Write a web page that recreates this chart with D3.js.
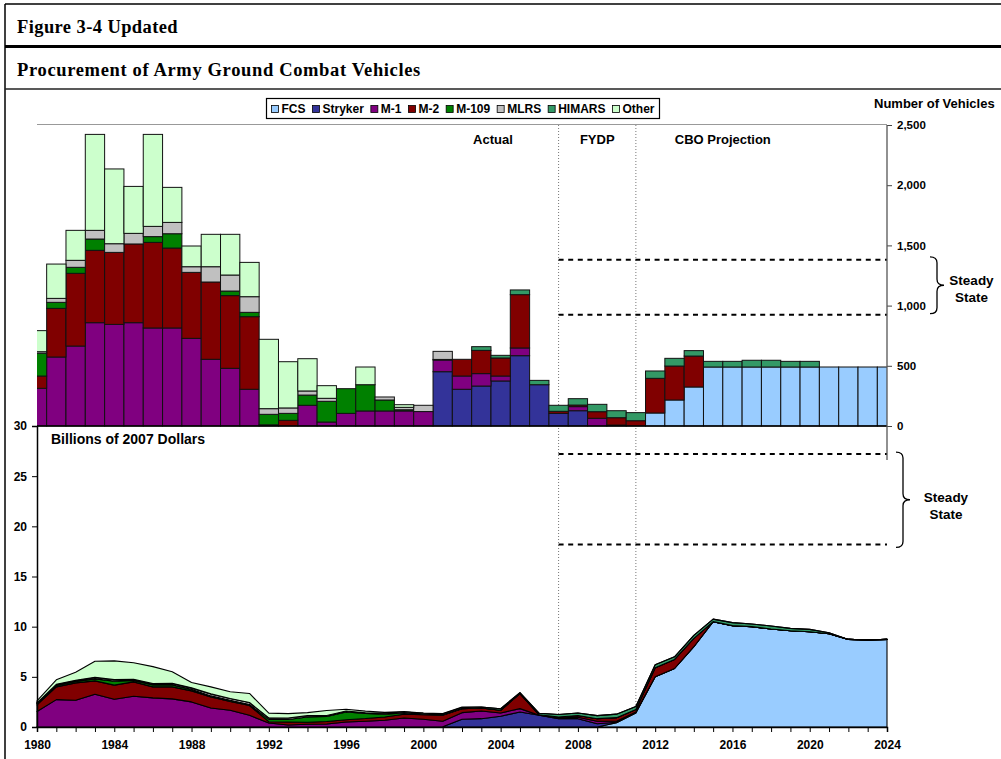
<!DOCTYPE html>
<html><head><meta charset="utf-8">
<script src="https://cdn.jsdelivr.net/npm/d3@7"></script>
<style>
body{margin:0;background:#fff;}
svg{display:block;font-family:Arial,"Liberation Sans",sans-serif;}
</style>
</head><body>
<svg id="c" width="1001" height="759"></svg>
<script>
// ---------- DATA ----------
const years = [1980,1981,1982,1983,1984,1985,1986,1987,1988,1989,1990,1991,1992,1993,1994,1995,1996,1997,1998,1999,2000,2001,2002,2003,2004,2005,2006,2007,2008,2009,2010,2011,2012,2013,2014,2015,2016,2017,2018,2019,2020,2021,2022,2023,2024];
const seriesNames = ["FCS","Stryker","M-1","M-2","M-109","MLRS","HIMARS","Other"];
const seriesColors = ["#99CCFF","#333399","#800080","#800000","#008000","#C0C0C0","#339966","#CCFFCC"];

// Number of vehicles
const fcsUnits     = [0,0,0,0,0,0,0,0,0,0,0,0,0,0,0,0,0,0,0,0,0,0,0,0,0,0,0,0,0,0,0,0,108,216,324,490,490,490,490,490,490,490,490,490,490];
const strykerUnits = [0,0,0,0,0,0,0,0,0,0,0,0,0,0,0,0,0,0,0,0,0,451,305,332,374,584,343,105,127,0,0,0,0,0,0,0,0,0,0,0,0,0,0,0,0];
const m1Units      = [313,573,664,858,844,858,814,814,728,554,479,305,5,0,172,33,105,125,125,125,120,97,110,103,41,64,0,0,34,64,8,0,0,0,0,0,0,0,0,0,0,0,0,0,0];
const m2Units      = [102,404,604,601,598,654,711,664,548,642,604,603,5,47,0,0,0,0,0,0,0,0,139,193,150,443,0,17,13,55,61,44,288,282,257,0,0,0,0,0,0,0,0,0,0];
const m109Units    = [189,50,50,94,0,0,48,119,0,0,38,36,87,58,85,172,205,218,91,10,0,5,0,0,0,0,0,0,0,0,0,0,0,0,0,0,0,0,0,0,0,0,0,0,0];
const mlrsUnits    = [13,33,58,72,72,88,85,94,47,127,133,130,47,45,34,25,0,0,25,20,52,67,0,0,0,0,0,0,0,0,0,0,0,0,0,0,0,0,0,0,0,0,0,0,0];
const himarsUnits  = [0,0,0,0,0,0,0,0,0,0,0,0,0,0,0,0,0,0,0,0,0,0,0,31,22,39,36,50,53,61,58,67,61,64,45,47,47,56,56,47,47,0,0,0,0];
const otherUnits   = [175,285,249,797,621,390,764,291,172,269,338,285,576,384,268,105,0,147,0,22,0,0,0,0,0,0,0,0,0,0,0,0,0,0,0,0,0,0,0,0,0,0,0,0,0];

// Billions of 2007 dollars
const fcsCost     = [0,0,0,0,0,0,0,0,0,0,0,0,0,0,0,0,0,0,0,0,0,0,0,0,0,0,0,0,0,0,0.43,1.4,5.0,5.83,8.0,10.5,10.1,10.0,9.77,9.6,9.5,9.3,8.73,8.67,8.73];
const strykerCost = [0,0,0,0,0,0,0,0,0,0,0,0,0,0,0,0,0,0,0,0,0,0.02,0.77,0.83,1.07,1.5,1.17,0.83,0.83,0.33,0.05,0.05,0,0,0,0,0,0,0,0,0,0,0,0,0];
const m1Cost      = [1.55,2.73,2.67,3.27,2.77,3.07,2.9,2.8,2.5,1.9,1.67,1.17,0.4,0.2,0.27,0.3,0.5,0.57,0.67,0.9,0.77,0.55,0.66,0.77,0.33,0.33,0,0.05,0.15,0.25,0.1,0.05,0,0,0,0,0,0,0,0,0,0,0,0,0];
const m2Cost      = [0.65,1.27,1.73,1.33,1.4,1.43,1.1,1.2,1.1,1.1,0.87,0.97,0.13,0.3,0.2,0.25,0.23,0.27,0.33,0.37,0.45,0.6,0.4,0.3,0.27,1.5,0.05,0.12,0.17,0.25,0.35,0.25,0.9,0.9,0.83,0,0,0,0,0,0,0,0,0,0];
const m109Cost    = [0.15,0.15,0.15,0.2,0.4,0.15,0.2,0.2,0.15,0.1,0.13,0.1,0.23,0.25,0.53,0.5,0.77,0.5,0.27,0.13,0.05,0.03,0,0,0,0,0,0,0,0,0,0,0,0,0,0,0,0,0,0,0,0,0,0,0];
const mlrsCost    = [0.05,0.1,0.1,0.15,0.15,0.1,0.12,0.15,0.15,0.2,0.17,0.2,0.15,0.15,0.13,0.1,0.1,0.07,0.1,0.1,0.1,0.1,0,0,0,0,0,0,0,0,0,0,0,0,0,0,0,0,0,0,0,0,0,0,0];
const himarsCost  = [0,0,0,0,0,0,0,0,0,0,0,0,0,0,0,0,0,0,0,0,0,0,0.1,0.1,0.15,0.1,0.15,0.25,0.25,0.3,0.35,0.3,0.3,0.27,0.3,0.25,0.3,0.27,0.3,0.23,0.23,0.1,0,0,0];
const otherCost   = [0.2,0.45,0.8,1.6,1.87,1.65,1.7,1.15,0.53,0.7,0.67,0.9,0.47,0.43,0.3,0.5,0.17,0.17,0.1,0.05,0.03,0.05,0.05,0,0,0,0,0,0,0,0,0,0,0,0,0,0,0,0,0,0,0,0,0,0];

// Steady-state ranges and period markers
const steadyUnits = [925, 1380];
const steadyCost = [18.2, 27.2];
const periodBreaks = [2007, 2011];
const periodLabels = [{t:"Actual", yr:2003.6}, {t:"FYDP", yr:2009.0}, {t:"CBO Projection", yr:2015.5}];

// Tick labels
const yearTickLabels = [1980,1984,1988,1992,1996,2000,2004,2008,2012,2016,2020,2024];
const unitTicks = [0,500,1000,1500,2000,2500];
const costTicks = [0,5,10,15,20,25,30];

// ---------- DRAW ----------
const svg = d3.select("#c");
const unitSeries = [fcsUnits,strykerUnits,m1Units,m2Units,m109Units,mlrsUnits,himarsUnits,otherUnits];
const costSeries = [fcsCost,strykerCost,m1Cost,m2Cost,m109Cost,mlrsCost,himarsCost,otherCost];
const toRows = arr => years.map((yr,i)=>{const o={year:yr}; seriesNames.forEach((k,j)=>o[k]=arr[j][i]); return o;});
const color = d3.scaleOrdinal().domain(seriesNames).range(seriesColors);

const L = 37, R = 887;
const x = d3.scaleLinear().domain([1980,2024]).range([L,R]);
const yTop = d3.scaleLinear().domain([0,2500]).range([426,125]);
const yBot = d3.scaleLinear().domain([0,30]).range([727,426]);

// Frame / header
svg.append("line").attr("x1",5).attr("x2",1001).attr("y1",4).attr("y2",4).attr("stroke","#000").attr("stroke-width",1.5);
svg.append("line").attr("x1",5).attr("x2",5).attr("y1",4).attr("y2",759).attr("stroke","#000").attr("stroke-width",1.5);
svg.append("line").attr("x1",5).attr("x2",1001).attr("y1",46.5).attr("y2",46.5).attr("stroke","#000").attr("stroke-width",3);
svg.append("line").attr("x1",5).attr("x2",1001).attr("y1",89).attr("y2",89).attr("stroke","#222").attr("stroke-width",1.5);
svg.append("text").attr("x",17).attr("y",33).attr("font-family","'Liberation Serif','Times New Roman',serif")
  .attr("font-weight","bold").attr("font-size",18.5).attr("letter-spacing",0.4).text("Figure 3-4 Updated");
svg.append("text").attr("x",17).attr("y",76).attr("font-family","'Liberation Serif','Times New Roman',serif")
  .attr("font-weight","bold").attr("font-size",18.5).attr("letter-spacing",0.65).text("Procurement of Army Ground Combat Vehicles");

// clip
svg.append("clipPath").attr("id","clipTop").append("rect").attr("x",L).attr("y",100).attr("width",R-L).attr("height",330);

// top border line of top plot
svg.append("line").attr("x1",L).attr("x2",R).attr("y1",124.5).attr("y2",124.5).attr("stroke","#999").attr("stroke-width",1.2);

// period dotted lines
periodBreaks.forEach(b=>{
  svg.append("line").attr("x1",x(b)).attr("x2",x(b)).attr("y1",125).attr("y2",727)
    .attr("stroke","#777").attr("stroke-width",1).attr("stroke-dasharray","1,2");
});

// --- top stacked bars ---
const keys = seriesNames;
const stackTop = d3.stack().keys(keys)(toRows(unitSeries));
const bw = x(1981)-x(1980);
const gBars = svg.append("g").attr("clip-path","url(#clipTop)");
stackTop.forEach(layer=>{
  gBars.selectAll(null).data(layer.filter(d=>d[1]-d[0]>0)).enter().append("rect")
    .attr("x",d=>x(d.data.year)-bw/2).attr("width",bw)
    .attr("y",d=>yTop(d[1])).attr("height",d=>yTop(d[0])-yTop(d[1]))
    .attr("fill",color(layer.key)).attr("stroke","#111").attr("stroke-width",1);
});
// baseline of top chart
svg.append("line").attr("x1",L).attr("x2",R).attr("y1",yTop(0)).attr("y2",yTop(0)).attr("stroke","#000").attr("stroke-width",1.5);

// --- bottom stacked areas ---
const stackBot = d3.stack().keys(keys)(toRows(costSeries));
const area = d3.area().x(d=>x(d.data.year)).y0(d=>yBot(d[0])).y1(d=>yBot(d[1]));
svg.append("g").selectAll("path").data(stackBot).enter().append("path")
  .attr("d",area).attr("fill",d=>color(d.key)).attr("stroke","#000").attr("stroke-width",1.1).attr("stroke-linejoin","round");

// steady-state dashed lines
const xs0 = x(periodBreaks[0]);
steadyUnits.forEach(v=>svg.append("line").attr("x1",xs0).attr("x2",R).attr("y1",yTop(v)).attr("y2",yTop(v))
  .attr("stroke","#000").attr("stroke-width",2).attr("stroke-dasharray","5,4.6"));
steadyCost.forEach(v=>svg.append("line").attr("x1",xs0).attr("x2",R).attr("y1",yBot(v)).attr("y2",yBot(v))
  .attr("stroke","#000").attr("stroke-width",2).attr("stroke-dasharray","5,4.6"));

// --- axes ---
const gR = svg.append("g").attr("transform",`translate(${R},0)`)
  .call(d3.axisRight(yTop).tickValues(unitTicks).tickSize(5).tickPadding(5).tickFormat(d3.format(",")));
gR.select(".domain").remove();
gR.selectAll("line").attr("stroke","#444");
gR.selectAll("text").attr("font-family","Arial,'Liberation Sans',sans-serif").attr("font-weight","bold").attr("font-size",11.5).attr("fill","#000");
svg.append("line").attr("x1",R).attr("x2",R).attr("y1",125).attr("y2",460).attr("stroke","#555").attr("stroke-width",1.3);

const gL = svg.append("g").attr("transform",`translate(${L},0)`)
  .call(d3.axisLeft(yBot).tickValues(costTicks).tickSize(5).tickPadding(5));
gL.select(".domain").attr("stroke","#000").attr("stroke-width",1.5);
gL.selectAll("text").attr("font-family","Arial,'Liberation Sans',sans-serif").attr("font-weight","bold").attr("font-size",12).attr("fill","#000");

const gX = svg.append("g").attr("transform",`translate(0,${yBot(0)})`)
  .call(d3.axisBottom(x).tickValues(years).tickSize(5).tickPadding(8)
    .tickFormat(d=>yearTickLabels.includes(d)?String(d):""));
gX.select(".domain").attr("stroke","#000").attr("stroke-width",1.5);
gX.selectAll("text").attr("font-family","Arial,'Liberation Sans',sans-serif").attr("font-weight","bold").attr("font-size",12).attr("fill","#000");

// --- labels ---
const bold = (sel,size)=>sel.attr("font-weight","bold").attr("font-size",size).attr("fill","#000");
periodLabels.forEach(p=>bold(svg.append("text").attr("x",x(p.yr)).attr("y",144).attr("text-anchor","middle").text(p.t),13));
bold(svg.append("text").attr("x",874).attr("y",108).text("Number of Vehicles"),13);
bold(svg.append("text").attr("x",51).attr("y",444).text("Billions of 2007 Dollars"),14);

// braces
function brace(x0,y1,y2,w){
  const ym=(y1+y2)/2, xm=x0+w/2, r=6;
  return `M${x0},${y1} Q${xm},${y1} ${xm},${y1+r} L${xm},${ym-r} Q${xm},${ym} ${x0+w},${ym} Q${xm},${ym} ${xm},${ym+r} L${xm},${y2-r} Q${xm},${y2} ${x0},${y2}`;
}
svg.append("path").attr("d",brace(930,yTop(steadyUnits[1])-3,yTop(steadyUnits[0])-1,14)).attr("fill","none").attr("stroke","#000").attr("stroke-width",1.3);
svg.append("path").attr("d",brace(896,yBot(steadyCost[1])-2,yBot(steadyCost[0])+3,14)).attr("fill","none").attr("stroke","#000").attr("stroke-width",1.3);
[["Steady",285],["State",302]].forEach(([t,yy])=>bold(svg.append("text").attr("x",971.5).attr("y",yy).attr("text-anchor","middle").text(t),13.5));
[["Steady",502],["State",519]].forEach(([t,yy])=>bold(svg.append("text").attr("x",946).attr("y",yy).attr("text-anchor","middle").text(t),13.5));

// --- legend ---
const lg = svg.append("g");
const box = {x:266.5, y:98.5, w:393, h:20};
lg.append("rect").attr("x",box.x).attr("y",box.y).attr("width",box.w).attr("height",box.h).attr("fill","#fff").attr("stroke","#000").attr("stroke-width",1.2);
const items = lg.selectAll("g.it").data(seriesNames).enter().append("g").attr("class","it");
items.append("rect").attr("width",7).attr("height",7).attr("y",box.y+7).attr("fill",d=>color(d)).attr("stroke","#000").attr("stroke-width",0.8);
const txt = items.append("text").attr("y",box.y+14.5).attr("font-weight","bold").attr("font-size",12).attr("fill","#000").text(d=>d);
const widths = txt.nodes().map(n=>n.getComputedTextLength());
const sq=7, g1=3, pad=5;
const sumW = d3.sum(widths) + seriesNames.length*(sq+g1);
const sp = (box.w - 2*pad - sumW)/(seriesNames.length-1);
let cx = box.x + pad;
items.each(function(d,i){
  const g = d3.select(this);
  g.select("rect").attr("x",cx);
  g.select("text").attr("x",cx+sq+g1);
  cx += sq+g1+widths[i]+sp;
});
</script>
</body></html>
